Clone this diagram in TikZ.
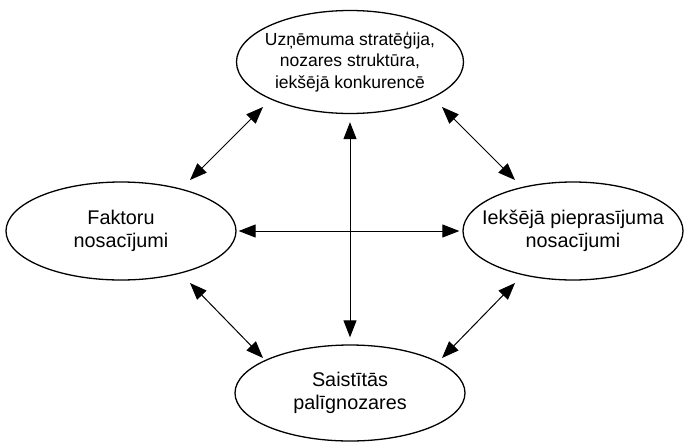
\documentclass[tikz,border=0pt]{standalone}
\usepackage{fontspec}
\setmainfont{Liberation Sans}
\usetikzlibrary{shapes.geometric,arrows.meta}
\begin{document}
\begin{tikzpicture}[x=1pt,y=-1pt,
  oval/.style={draw,ellipse,line width=1.3pt,inner xsep=-40pt,inner ysep=0pt,align=center,font=\fontsize{19.8}{22.5}\selectfont},
  link/.style={line width=1pt,{Triangle[length=17pt,width=13pt]}-{Triangle[length=17pt,width=13pt]}}]
\useasboundingbox (0,0) rectangle (684,442);
\node[oval,minimum width=227pt,minimum height=103pt,font=\fontsize{17.5}{21.5}\selectfont] (T) at (350,62) {Uzņēmuma stratēģija,\\nozares struktūra,\\iekšējā konkurencē};
\node[oval,minimum width=230pt,minimum height=98pt] (L) at (121,231) {Faktoru\\nosacījumi};
\node[oval,minimum width=220pt,minimum height=98pt] (R) at (573,231) {Iekšējā pieprasījuma\\nosacījumi};
\node[oval,minimum width=230pt,minimum height=96pt] (B) at (350,393) {Saistītās\\palīgnozares};
\coordinate (a1) at (263,107); \coordinate (a2) at (190,180);
\coordinate (b1) at (442,107); \coordinate (b2) at (515,180);
\coordinate (c1) at (190,283); \coordinate (c2) at (263,358);
\coordinate (d1) at (515,283); \coordinate (d2) at (442,358);
\draw[link,shorten <=2pt,shorten >=3pt] (L.east) -- (R.west);
\draw[link,shorten <=8pt,shorten >=7pt] (T.south) -- (B.north);
\draw[link] (a1) -- (a2);
\draw[link] (b1) -- (b2);
\draw[link] (c1) -- (c2);
\draw[link] (d1) -- (d2);
\end{tikzpicture}
\end{document}
